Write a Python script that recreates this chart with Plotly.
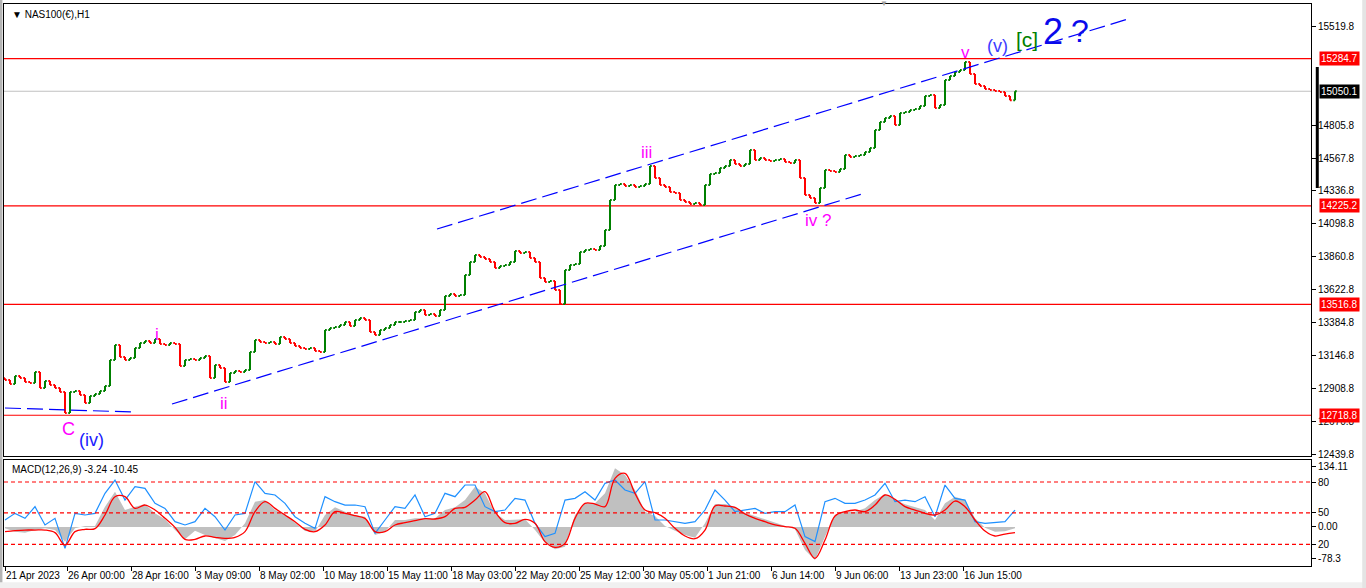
import plotly.graph_objects as go

# NAS100(EUR) H1, 21 Apr - 16 Jun 2023. One close read every 5 hourly bars.
bar_step = 5
first_open = 12985
closes = [
    12972, 12944, 13001, 12987, 12958, 12951, 13030, 12915, 12965, 12936,
    12915, 12886, 12735, 12886, 12893, 12864, 12807, 12857, 12872, 12893,
    12929, 13116, 13224, 13138, 13116, 13131, 13203, 13239, 13253, 13239,
    13268, 13232, 13224, 13239, 13232, 13073, 13116, 13124, 13116, 13131,
    13145, 12987, 13080, 13059, 12958, 13023, 13037, 13030, 13044, 13174,
    13260, 13246, 13239, 13246, 13232, 13282, 13268, 13239, 13217, 13203,
    13196, 13203, 13181, 13174, 13332, 13347, 13354, 13368, 13390, 13361,
    13404, 13419, 13404, 13318, 13296, 13332, 13347, 13368, 13390, 13390,
    13397, 13404, 13462, 13476, 13440, 13447, 13433, 13476, 13577, 13591,
    13577, 13584, 13728, 13822, 13872, 13858, 13843, 13822, 13778, 13793,
    13800, 13822, 13901, 13886, 13894, 13850, 13822, 13706, 13678, 13685,
    13620, 13519, 13764, 13800, 13807, 13894, 13908, 13915, 13908, 13937,
    14052, 14268, 14376, 14383, 14368, 14376, 14361, 14368, 14383, 14512,
    14426, 14376, 14361, 14325, 14318, 14268, 14253, 14239, 14246, 14232,
    14376, 14455, 14462, 14498, 14512, 14556, 14527, 14512, 14527, 14628,
    14556, 14570, 14556, 14548, 14556, 14563, 14541, 14534, 14556, 14426,
    14304, 14282, 14246, 14354, 14484, 14476, 14469, 14491, 14592, 14577,
    14584, 14592, 14613, 14642, 14771, 14829, 14858, 14872, 14807, 14894,
    14901, 14915, 14923, 14944, 15016, 15023, 14930, 14951, 15131, 15160,
    15189, 15203, 15261, 15174, 15102, 15088, 15066, 15059, 15052, 15045,
    15016, 14985, 15050,
]

# MACD(12,26,9) panel, one value every 10 bars
macd_step = 10
macd_hist = [
    -2.8, -9.5, -11.5, -6.2, -2.8, -6.2, -29.5, -2.8, 1.8, 1.8,
    40.6, 70.6, 33.9, 40.6, 45.3, 27.2, 15.2, -6.2, -24.9, -7.5,
    -16.2, -21.5, -28.2, -16.2, 7.2, 50.6, 53.9, 33.9, 25.2, 8.5,
    -8.2, -9.5, 23.9, 39.3, 30.6, 23.9, 20.5, -16.2, -9.5, 13.9,
    13.9, 17.2, 17.2, 17.2, 33.9, 39.3, 53.9, 80.7, 67.3, 27.2,
    13.9, 15.2, 15.2, -6.2, -31.5, -44.9, -39.6, 23.9, 47.3, 47.3,
    67.3, 117.4, 104.0, 74.0, 30.6, 21.9, 1.8, -7.5, -16.2, -21.5,
    7.2, 45.9, 45.9, 40.6, 28.6, 21.9, 15.2, 7.2, 1.8, -4.8,
    -46.3, -66.3, -19.5, 23.9, 30.6, 30.6, 37.2, 53.9, 66.0, 53.9,
    45.3, 39.3, 33.9, 13.9, 47.3, 60.6, 53.9, 17.2, -1.5, -9.5,
    -8.8, -2.8,
]
macd_signal = [
    -9.5, -7.5, -6.2, -6.2, -6.2, -11.5, -36.2, -9.5, -4.8, -3.5,
    23.9, 60.6, 60.6, 37.2, 43.9, 33.9, 17.2, -0.8, -24.9, -24.9,
    -18.2, -20.9, -22.9, -20.9, -9.5, 30.6, 50.6, 37.2, 23.9, 10.5,
    -4.8, -9.5, 3.9, 30.6, 27.2, 22.5, 17.2, -9.5, -9.5, 3.9,
    8.5, 12.5, 16.5, 15.9, 20.5, 37.2, 39.3, 53.9, 70.6, 30.6,
    8.5, 7.2, 15.2, 7.2, -29.5, -40.9, -32.9, 17.2, 47.3, 45.9,
    40.6, 97.4, 107.4, 67.3, 33.9, 28.6, 17.2, -2.8, -18.2, -23.5,
    -6.2, 41.9, 41.9, 39.3, 25.9, 17.2, 10.5, 3.9, 0.5, -2.8,
    -32.9, -62.9, -26.2, 21.9, 30.6, 33.9, 30.6, 43.9, 64.0, 55.3,
    40.6, 33.9, 27.2, 23.9, 33.9, 51.9, 40.6, 13.9, -8.2, -18.2,
    -14.2, -11.5,
]
macd_fast = [
    13.9, 27.2, 17.2, 40.6, 3.9, 17.2, -42.9, 27.2, 23.9, 27.2,
    67.3, 94.0, 53.9, 80.7, 77.3, 47.3, 37.2, 10.5, 3.9, 10.5,
    37.2, 20.5, -6.2, 23.9, 27.2, 90.7, 67.3, 64.0, 47.3, 20.5,
    7.2, -2.8, 60.6, 50.6, 43.9, 43.9, 40.6, -12.9, 13.9, 40.6,
    37.2, 64.0, 20.5, 27.2, 67.3, 60.6, 84.0, 84.0, 40.6, 30.6,
    33.9, 57.3, 53.9, 7.2, -19.5, -12.9, 53.9, 57.3, 70.6, 53.9,
    87.4, 94.0, 74.0, 67.3, 90.7, 13.9, 13.9, 10.5, 7.2, 10.5,
    33.9, 74.0, 53.9, 30.6, 33.9, 37.2, 27.2, 30.6, 30.6, 43.9,
    -19.5, -29.5, 50.6, 57.3, 47.3, 47.3, 53.9, 64.0, 87.4, 50.6,
    53.9, 50.6, 60.6, 20.5, 84.0, 57.3, 53.9, 10.5, 7.2, 8.5,
    10.5, 33.9,
]
macd_levels = [90, 28, -35]
macd_tick_vals = [120.1, 90, 28, 0, -35, -62.3]
macd_tick_text = ["134.11", "80", "50", "0.00", "20", "-78.3"]

# horizontal levels and price axis
red_levels = [15284.7, 14225.2, 13516.8, 12718.8]
last_price = 15050.1
price_ticks = [15519.8, 14805.8, 14567.8, 14336.8, 14098.8, 13860.8,
               13622.8, 13384.8, 13146.8, 12908.8, 12670.8, 12439.8]

# trend lines: (bar0, price0, bar1, price1)
trend_lines = [
    (432, 14059, 1123, 15570),
    (167, 12800, 857, 14311),
    (0, 12771, 128, 12742),
]

# wave count labels
wave_text = ["C", "(iv)", "i", "ii", "iii", "iv ?", "v", "(v)", "[c]", "2", "?"]
wave_bar = [63, 86, 152, 219, 641, 813, 960, 992, 1022, 1048, 1075]
wave_price = [12620, 12541, 13303, 12800, 14606, 14117, 15326, 15376, 15426, 15477, 15484]

date_labels = ["21 Apr 2023", "26 Apr 00:00", "28 Apr 16:00", "3 May 09:00",
               "8 May 02:00", "10 May 18:00", "15 May 11:00", "18 May 03:00",
               "22 May 20:00", "25 May 12:00", "30 May 05:00", "1 Jun 21:00",
               "6 Jun 14:00", "9 Jun 06:00", "13 Jun 23:00", "16 Jun 15:00"]
date_pos = [0] + [62 + 64 * k for k in range(len(date_labels) - 1)]

FONT = "Tahoma, Liberation Sans, Arial"
MAGENTA = "#ff00ff"

bar_x = [i * bar_step for i in range(len(closes))]
opens = [first_open] + closes[:-1]
highs = [max(o, c) for o, c in zip(opens, closes)]
lows = [min(o, c) for o, c in zip(opens, closes)]
macd_x = [i * macd_step for i in range(len(macd_hist))]

fig = go.Figure()

fig.add_trace(go.Ohlc(x=bar_x, open=opens, high=highs, low=lows, close=closes,
                      increasing=dict(line=dict(color="#008000", width=2)),
                      decreasing=dict(line=dict(color="#ff0000", width=2)),
                      tickwidth=0.35, showlegend=False, hoverinfo="skip",
                      xaxis="x", yaxis="y"))

for b0, p0, b1, p1 in trend_lines:
    fig.add_trace(go.Scatter(x=[b0, b1], y=[p0, p1], mode="lines",
                             line=dict(color="#0000ff", width=1.2, dash="16px,6px"),
                             showlegend=False, hoverinfo="skip", xaxis="x", yaxis="y"))

# macd panel
fig.add_trace(go.Scatter(x=macd_x, y=macd_hist, mode="lines", fill="tozeroy",
                         fillcolor="#c0c0c0", line=dict(width=0, color="#c0c0c0"),
                         showlegend=False, hoverinfo="skip", xaxis="x2", yaxis="y2"))
fig.add_trace(go.Scatter(x=macd_x, y=macd_fast, mode="lines",
                         line=dict(color="#1e90ff", width=1.2),
                         showlegend=False, hoverinfo="skip", xaxis="x2", yaxis="y2"))
fig.add_trace(go.Scatter(x=macd_x, y=macd_signal, mode="lines", line_shape="spline",
                         line=dict(color="#ff0000", width=1.3),
                         showlegend=False, hoverinfo="skip", xaxis="x2", yaxis="y2"))

shapes = []
for lv in red_levels:
    shapes.append(dict(type="line", xref="x domain", yref="y", x0=0, x1=1, y0=lv, y1=lv,
                       line=dict(color="#ff0000", width=1.2), layer="below"))
shapes.append(dict(type="line", xref="x domain", yref="y", x0=0, x1=1,
                   y0=last_price, y1=last_price, line=dict(color="#c0c0c0", width=1.2),
                   layer="below"))
for lv in macd_levels:
    shapes.append(dict(type="line", xref="x2 domain", yref="y2", x0=0, x1=1, y0=lv, y1=lv,
                       line=dict(color="#ff0000", width=1.2, dash="4px,3px"), layer="above"))
# black range marker on the price scale
shapes.append(dict(type="line", xref="paper", yref="y", x0=1.0048, x1=1.0048,
                   y0=14354, y1=15225, line=dict(color="black", width=3)))
# window frame
shapes.append(dict(type="rect", xref="paper", yref="paper", x0=-0.0031, x1=-0.0012,
                   y0=-0.04, y1=1.01, fillcolor="#b4b4b4", line_width=0))
shapes.append(dict(type="rect", xref="paper", yref="paper", x0=-0.004, x1=1.05,
                   y0=-0.0395, y1=-0.029, fillcolor="#f0f0f0", line_width=0))
shapes.append(dict(type="rect", xref="paper", yref="paper", x0=1.0392, x1=1.05,
                   y0=-0.04, y1=1.01, fillcolor="#e4e4e4", line_width=0))

annotations = [
    dict(text="▼ NAS100(€),H1", xref="paper", yref="paper", x=0, y=1, xshift=6, yshift=-3,
         xanchor="left", yanchor="top", showarrow=False, font=dict(size=10, color="black")),
    dict(text="MACD(12,26,9) -3.24 -10.45", xref="paper", yref="y2 domain", x=0, y=1,
         xshift=6, yshift=-2, xanchor="left", yanchor="top", showarrow=False,
         font=dict(size=10, color="black")),
    dict(text="▼", xref="x", yref="paper", x=879, y=1, yshift=1, showarrow=False,
         xanchor="center", yanchor="middle", font=dict(size=8, color="#a0a0a0")),
]
for lv in red_levels:
    annotations.append(dict(text=f"{lv:.1f}", xref="paper", yref="y", x=1, y=lv, xshift=8,
                            xanchor="left", yanchor="middle", showarrow=False,
                            bgcolor="#ff0000", borderpad=1,
                            font=dict(size=10, color="white")))
annotations.append(dict(text=f"{last_price:.1f}", xref="paper", yref="y", x=1, y=last_price,
                        xshift=8, xanchor="left", yanchor="middle", showarrow=False,
                        bgcolor="black", borderpad=1, font=dict(size=10, color="white")))

wave_style = {
    "C": (MAGENTA, 18), "(iv)": ("#1a1aff", 18), "i": (MAGENTA, 17), "ii": (MAGENTA, 17),
    "iii": (MAGENTA, 17), "iv ?": (MAGENTA, 17), "v": (MAGENTA, 17),
    "(v)": ("#3c3cff", 18), "[c]": ("#008000", 21), "2": ("#0a0aeb", 36), "?": ("#0a0aeb", 32),
}
for t, b, p in zip(wave_text, wave_bar, wave_price):
    col, sz = wave_style[t]
    annotations.append(dict(text=t, xref="x", yref="y", x=b, y=p, showarrow=False,
                            xanchor="center", yanchor="middle",
                            font=dict(size=sz, color=col, family="Liberation Sans, Arial")))

axis_common = dict(showline=True, mirror=True, linecolor="black", linewidth=1,
                   showgrid=False, zeroline=False)

fig.update_layout(
    width=1366, height=588,
    margin=dict(l=4, r=55, t=4, b=22, autoexpand=False),
    paper_bgcolor="white", plot_bgcolor="white",
    font=dict(family=FONT, size=10, color="black"),
    showlegend=False,
    xaxis=dict(domain=[0, 1], range=[-1, 1306], anchor="y", showticklabels=False,
               ticks="", rangeslider=dict(visible=False), **axis_common),
    yaxis=dict(domain=[0.1957, 1], range=[12425.5, 15678.1], side="right", anchor="x",
               tickvals=price_ticks, ticktext=[f"{v:.1f}" for v in price_ticks],
               ticks="outside", ticklen=4, tickcolor="black", **axis_common),
    xaxis2=dict(domain=[0, 1], range=[-1, 1306], anchor="y2", tickvals=date_pos,
                ticktext=date_labels, ticks="outside", ticklen=4, tickcolor="black",
                tickangle=0, ticklabelposition="outside right", **axis_common),
    yaxis2=dict(domain=[0, 0.1886], range=[-78.3, 134.11], side="right", anchor="x2",
                tickvals=macd_tick_vals, ticktext=macd_tick_text,
                ticks="outside", ticklen=4, tickcolor="black", **axis_common),
    shapes=shapes,
    annotations=annotations,
)

# the page body keeps an 8px margin by default, drop it so the chart sits at 0,0
fig.write_html("out.html", config={"displayModeBar": False},
               post_script="document.body.style.margin='0';")
